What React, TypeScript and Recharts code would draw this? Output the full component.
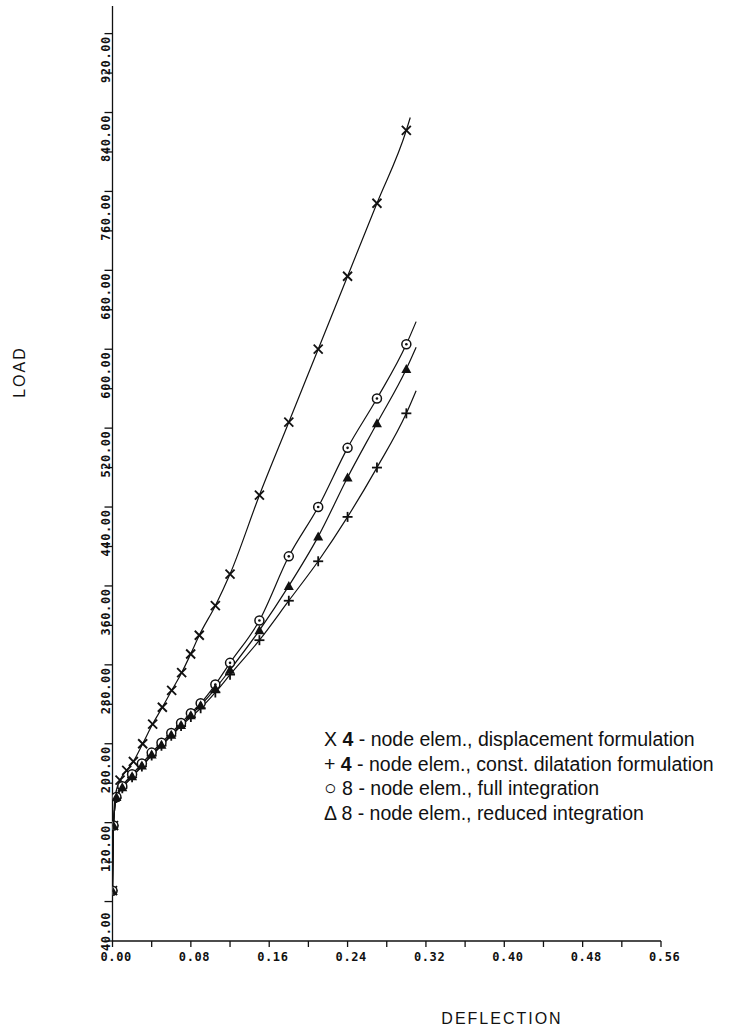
import React from "react";
import { ComposedChart, Line, Scatter, XAxis, YAxis } from "recharts";

const W = 731;
const H = 1032;

// tick values
const xTicks = [0, 0.04, 0.08, 0.12, 0.16, 0.2, 0.24, 0.28, 0.32, 0.36, 0.4, 0.44, 0.48, 0.52, 0.56];
const yTicks = [40, 80, 120, 160, 200, 240, 280, 320, 360, 400, 440, 480, 520, 560, 600, 640, 680, 720, 760, 800, 840, 880, 920, 960];

// series markers (deflection, load)
const dispX = [0, 0.001, 0.0026, 0.0077, 0.0145, 0.0213, 0.0308, 0.041, 0.0509, 0.0604, 0.0706, 0.0798, 0.0886, 0.105, 0.12, 0.15, 0.18, 0.21, 0.24, 0.27, 0.3];
const dispY = [91, 157, 186, 203, 213, 222, 240, 260, 277, 294, 312, 331, 350, 380, 412, 492, 566, 640, 714, 788, 862];

const dilX = [0, 0.001, 0.004, 0.01, 0.02, 0.03, 0.04, 0.05, 0.06, 0.07, 0.08, 0.09, 0.105, 0.12, 0.15, 0.18, 0.21, 0.24, 0.27, 0.3];
const dilY = [91, 157, 185, 195, 206, 217, 228, 238, 248, 258, 267, 276, 292, 310, 345, 385, 425, 470, 520, 575];

const fullX = [0, 0.001, 0.004, 0.01, 0.02, 0.03, 0.04, 0.05, 0.06, 0.07, 0.08, 0.09, 0.105, 0.12, 0.15, 0.18, 0.21, 0.24, 0.27, 0.3];
const fullY = [91, 157, 186, 197, 209, 220, 231, 241, 251, 261, 271, 281, 300, 322, 365, 430, 480, 540, 590, 645];

const redX = [0, 0.001, 0.004, 0.01, 0.02, 0.03, 0.04, 0.05, 0.06, 0.07, 0.08, 0.09, 0.105, 0.12, 0.15, 0.18, 0.21, 0.24, 0.27, 0.3];
const redY = [91, 157, 186, 196, 207, 218, 229, 239, 249, 259, 269, 279, 296, 315, 355, 400, 450, 510, 565, 620];

// fitted curves run a little past the last marker: end points of each curve
const dispEnd = { x: 0.304, y: 875 };
const dilEnd = { x: 0.31, y: 598 };
const fullEnd = { x: 0.31, y: 668 };
const redEnd = { x: 0.31, y: 642 };

const zip = (xs: number[], ys: number[]) => xs.map((x, i) => ({ x, y: ys[i] }));

const dispData = zip(dispX, dispY);
const dilData = zip(dilX, dilY);
const fullData = zip(fullX, fullY);
const redData = zip(redX, redY);

const legendItems = [
  { sym: "X", symSize: 19.5, num: "4", bold: true, text: " - node elem., displacement formulation" },
  { sym: "+", symSize: 19.5, num: "4", bold: true, text: " - node elem., const. dilatation formulation" },
  { sym: "○", symSize: 21, num: "8", bold: false, text: " - node elem., full integration" },
  { sym: "Δ", symSize: 19.5, num: "8", bold: false, text: " - node elem., reduced integration" },
];

const INK = "#111";

const XMark = (p: any) => {
  const { cx, cy } = p;
  const s = 4.5;
  return (
    <g stroke={INK} strokeWidth={1.8}>
      <line x1={cx - s} y1={cy - s} x2={cx + s} y2={cy + s} />
      <line x1={cx - s} y1={cy + s} x2={cx + s} y2={cy - s} />
    </g>
  );
};
const PlusMark = (p: any) => {
  const { cx, cy } = p;
  const s = 5;
  return (
    <g stroke={INK} strokeWidth={1.8}>
      <line x1={cx - s} y1={cy} x2={cx + s} y2={cy} />
      <line x1={cx} y1={cy - s} x2={cx} y2={cy + s} />
    </g>
  );
};
const CircMark = (p: any) => {
  const { cx, cy } = p;
  return (
    <g>
      <circle cx={cx} cy={cy} r={4.5} fill="#fff" stroke={INK} strokeWidth={1.5} />
      <circle cx={cx} cy={cy} r={1.3} fill={INK} />
    </g>
  );
};
const TriMark = (p: any) => {
  const { cx, cy } = p;
  const s = 5;
  return <path d={`M${cx},${cy - s} L${cx + s},${cy + s * 0.8} L${cx - s},${cy + s * 0.8} Z`} fill={INK} />;
};

const tickFont = { fontFamily: "DejaVu Sans Mono", fontWeight: 700, fontSize: 12, letterSpacing: 0.6 };

const YTick = (p: any) => {
  const { y, payload } = p;
  const v = payload.value;
  if ((v - 40) % 80 !== 0) return null;
  const tx = 110;
  const ty = y + 10;
  return (
    <text x={tx} y={ty} transform={`rotate(-90 ${tx} ${ty})`} textAnchor="start" fill={INK} style={tickFont}>
      {v.toFixed(2)}
    </text>
  );
};

const XTick = (p: any) => {
  const { x, payload } = p;
  const v = payload.value;
  const k = Math.round(v * 100);
  if (k % 8 !== 0) return null;
  return (
    <text x={x - 12} y={961} textAnchor="start" fill={INK} style={tickFont}>
      {v.toFixed(2)}
    </text>
  );
};

export default function App() {
  const lineProps = { dataKey: "y", type: "monotone" as const, stroke: INK, strokeWidth: 1.2, dot: false, isAnimationActive: false };
  return (
    <div style={{ position: "absolute", left: 0, top: 0, width: W, height: H, background: "#fff" }}>
      <ComposedChart width={W} height={H} margin={{ top: 6, right: 70, bottom: 51, left: 0 }}>
        <XAxis
          type="number"
          dataKey="x"
          domain={[0, 0.56]}
          ticks={xTicks}
          interval={0}
          tickSize={6}
          height={40}
          stroke={INK}
          strokeWidth={1.3}
          tick={<XTick />}
          allowDataOverflow
        />
        <YAxis
          type="number"
          dataKey="y"
          domain={[40, 988]}
          ticks={yTicks}
          interval={0}
          tickSize={8}
          width={112.5}
          stroke={INK}
          strokeWidth={1.3}
          tick={<YTick />}
          allowDataOverflow
        />
        <Line data={[...dispData, dispEnd]} {...lineProps} />
        <Line data={[...dilData, dilEnd]} {...lineProps} />
        <Line data={[...fullData, fullEnd]} {...lineProps} />
        <Line data={[...redData, redEnd]} {...lineProps} />
        <Scatter data={dispData} dataKey="y" shape={<XMark />} isAnimationActive={false} />
        <Scatter data={dilData} dataKey="y" shape={<PlusMark />} isAnimationActive={false} />
        <Scatter data={fullData} dataKey="y" shape={<CircMark />} isAnimationActive={false} />
        <Scatter data={redData} dataKey="y" shape={<TriMark />} isAnimationActive={false} />
      </ComposedChart>
      <div
        style={{
          position: "absolute",
          left: 20,
          top: 372,
          transform: "translate(-50%, -50%) rotate(-90deg)",
          fontFamily: "Liberation Sans",
          fontSize: 16,
          letterSpacing: 2,
          color: INK,
          whiteSpace: "nowrap",
        }}
      >
        LOAD
      </div>
      <div
        style={{
          position: "absolute",
          left: 502,
          top: 1027,
          transform: "translate(-50%, -100%)",
          fontFamily: "Liberation Sans",
          fontSize: 16,
          letterSpacing: 2,
          lineHeight: "16px",
          color: INK,
          whiteSpace: "nowrap",
        }}
      >
        DEFLECTION
      </div>
      <div style={{ position: "absolute", left: 324, top: 727, fontFamily: "Liberation Sans", fontSize: 19.5, color: INK }}>
        {legendItems.map((it, i) => (
          <div key={i} style={{ height: 24.7, lineHeight: "24.7px", whiteSpace: "nowrap" }}>
            <span style={{ fontSize: it.symSize }}>{it.sym}</span>
            <span> </span>
            <span style={{ fontWeight: it.bold ? 700 : 400 }}>{it.num}</span>
            <span>{it.text}</span>
          </div>
        ))}
      </div>
    </div>
  );
}
